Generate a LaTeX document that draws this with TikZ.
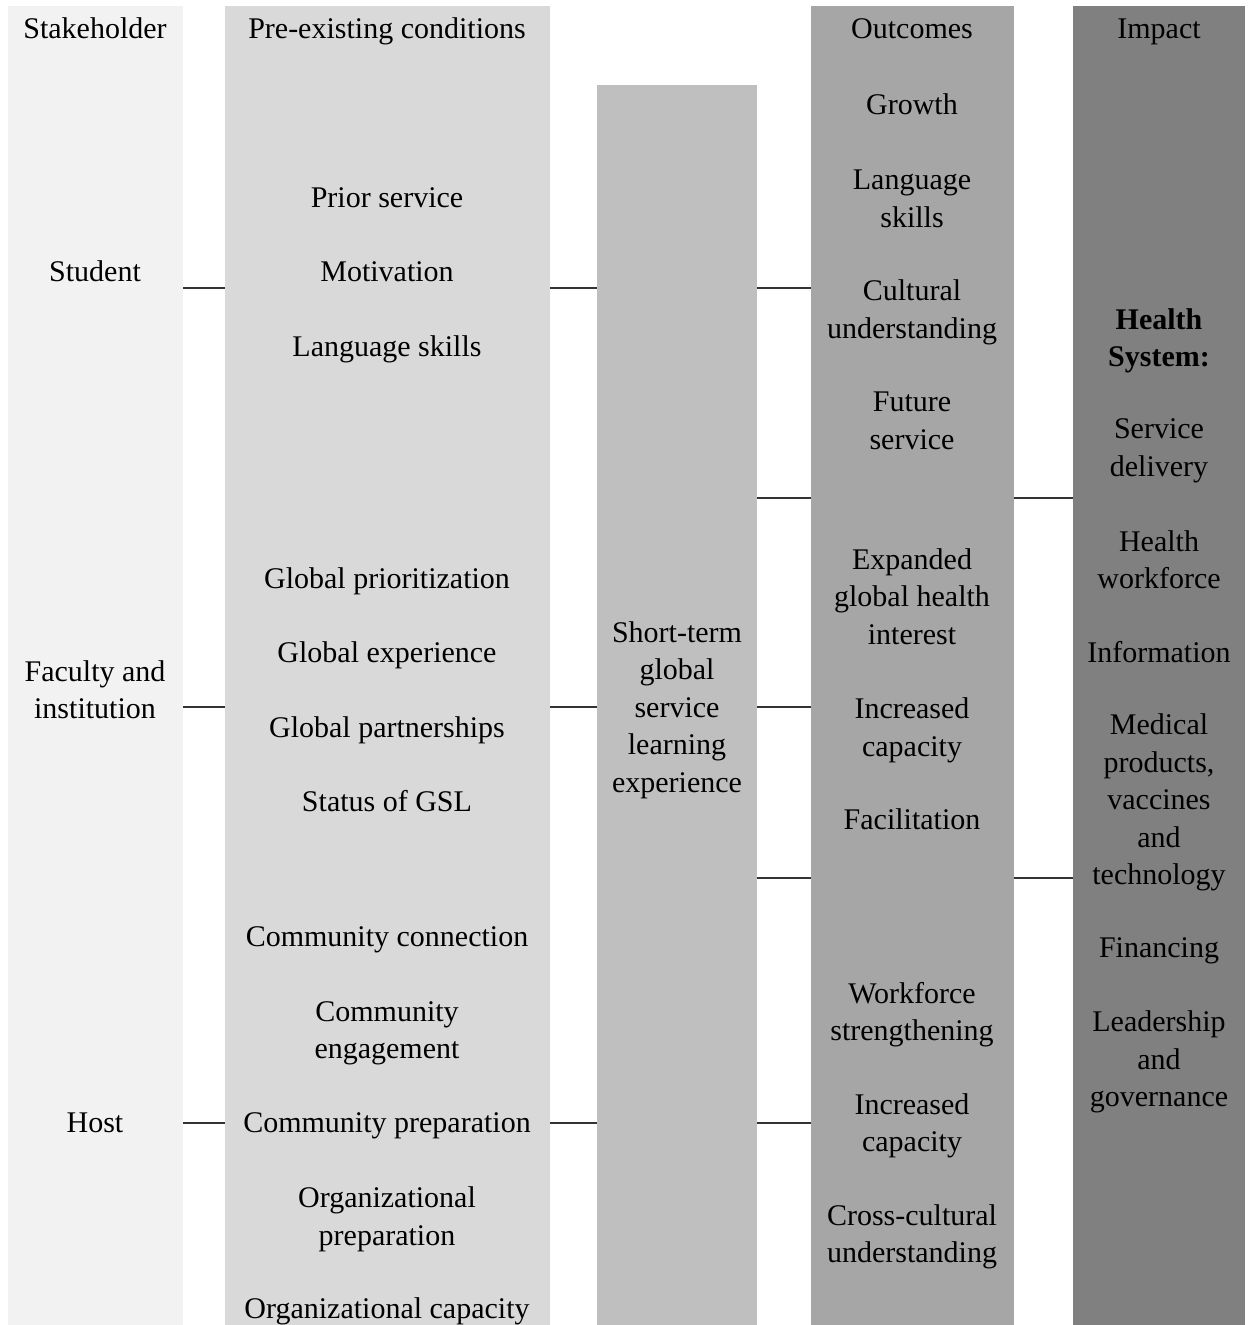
\documentclass[tikz,border=0pt]{standalone}
\usepackage{fontspec}
\setmainfont{Liberation Serif}
\usepackage{tikz}
\definecolor{stakegray}{HTML}{F2F2F2}
\definecolor{pregray}{HTML}{D9D9D9}
\definecolor{expgray}{HTML}{BFBFBF}
\definecolor{outgray}{HTML}{A6A6A6}
\definecolor{impgray}{HTML}{808080}
\tikzset{
	colstyle/.style={rectangle,inner sep=0pt,minimum height=1319pt},
	textstyle/.style={align=center,inner sep=0pt,text depth=7pt,yshift=-4pt,font={\fontsize{30}{37.5}\selectfont}},
	linkstyle/.style={line width=1.5pt,draw=black!80}
}
\begin{document}
\begin{tikzpicture}[x=1pt,y=-1pt]
		\useasboundingbox (0,0) rectangle (1253,1325);
		% columns
		\node[colstyle,fill=stakegray,minimum width=175pt] (stakecol) at (95.5,665.5) {};
		\node[colstyle,fill=pregray,minimum width=325pt] (precol) at (387.5,665.5) {};
		\node[colstyle,fill=expgray,minimum width=160pt,minimum height=1240pt] (expcol) at (677,705) {};
		\node[colstyle,fill=outgray,minimum width=203pt] (outcol) at (912.5,665.5) {};
		\node[colstyle,fill=impgray,minimum width=172pt] (impcol) at (1159,665.5) {};
		% stakeholder
		\node[textstyle] (stakehead) at (95,28) {Stakeholder};
		\node[textstyle] (student) at (95,271) {Student};
		\node[textstyle] (faculty) at (95,689) {Faculty and\\institution};
		\node[textstyle] (host) at (95,1122) {Host};
		% pre-existing conditions
		\node[textstyle] (prehead) at (387,28) {Pre-existing conditions};
		\node[textstyle] (prior) at (387,197) {Prior service};
		\node[textstyle] (motiv) at (387,271) {Motivation};
		\node[textstyle] (langpre) at (387,346) {Language skills};
		\node[textstyle] (gprior) at (387,578) {Global prioritization};
		\node[textstyle] (gexp) at (387,652) {Global experience};
		\node[textstyle] (gpart) at (387,727) {Global partnerships};
		\node[textstyle] (gsl) at (387,800) {Status of GSL};
		\node[textstyle] (cconn) at (387,936) {Community connection};
		\node[textstyle] (ceng) at (387,1029.5) {Community\\engagement};
		\node[textstyle] (cprep) at (387,1122) {Community preparation};
		\node[textstyle] (oprep) at (387,1215.5) {Organizational\\preparation};
		\node[textstyle] (ocap) at (387,1308) {Organizational capacity};
		% experience
		\node[textstyle] (gslexp) at (677,706.5) {Short-term\\global\\service\\learning\\experience};
		% outcomes
		\node[textstyle] (outhead) at (912,28) {Outcomes};
		\node[textstyle] (growth) at (912,104) {Growth};
		\node[textstyle] (langout) at (912,198) {Language\\skills};
		\node[textstyle] (cult) at (912,308.5) {Cultural\\understanding};
		\node[textstyle] (future) at (912,420) {Future\\service};
		\node[textstyle] (expand) at (912,596) {Expanded\\global health\\interest};
		\node[textstyle] (capfac) at (912,726.5) {Increased\\capacity};
		\node[textstyle] (facil) at (912,819) {Facilitation};
		\node[textstyle] (wforce) at (912,1011) {Workforce\\strengthening};
		\node[textstyle] (caphost) at (912,1122) {Increased\\capacity};
		\node[textstyle] (cross) at (912,1233) {Cross-cultural\\understanding};
		% impact
		\node[textstyle] (imphead) at (1159,28) {Impact};
		\node[textstyle] (hsys) at (1159,337) {\textbf{Health}\\\textbf{System:}};
		\node[textstyle] (sdel) at (1159,447) {Service\\delivery};
		\node[textstyle] (hwork) at (1159,559) {Health\\workforce};
		\node[textstyle] (info) at (1159,651) {Information};
		\node[textstyle] (medprod) at (1159,799) {Medical\\products,\\vaccines\\and\\technology};
		\node[textstyle] (finance) at (1159,947) {Financing};
		\node[textstyle] (lead) at (1159,1058.5) {Leadership\\and\\governance};
		% link rows
		\coordinate (rowstudent) at (0,288);
		\coordinate (rowfaculty) at (0,707);
		\coordinate (rowhost) at (0,1123);
		\coordinate (rowupper) at (0,498);
		\coordinate (rowlower) at (0,878);
		\draw[linkstyle] (stakecol.east |- rowstudent)--(precol.west |- rowstudent);
		\draw[linkstyle] (precol.east |- rowstudent)--(expcol.west |- rowstudent);
		\draw[linkstyle] (expcol.east |- rowstudent)--(outcol.west |- rowstudent);
		\draw[linkstyle] (stakecol.east |- rowfaculty)--(precol.west |- rowfaculty);
		\draw[linkstyle] (precol.east |- rowfaculty)--(expcol.west |- rowfaculty);
		\draw[linkstyle] (expcol.east |- rowfaculty)--(outcol.west |- rowfaculty);
		\draw[linkstyle] (stakecol.east |- rowhost)--(precol.west |- rowhost);
		\draw[linkstyle] (precol.east |- rowhost)--(expcol.west |- rowhost);
		\draw[linkstyle] (expcol.east |- rowhost)--(outcol.west |- rowhost);
		\draw[linkstyle] (expcol.east |- rowupper)--(outcol.west |- rowupper);
		\draw[linkstyle] (outcol.east |- rowupper)--(impcol.west |- rowupper);
		\draw[linkstyle] (expcol.east |- rowlower)--(outcol.west |- rowlower);
		\draw[linkstyle] (outcol.east |- rowlower)--(impcol.west |- rowlower);
\end{tikzpicture}
\end{document}
